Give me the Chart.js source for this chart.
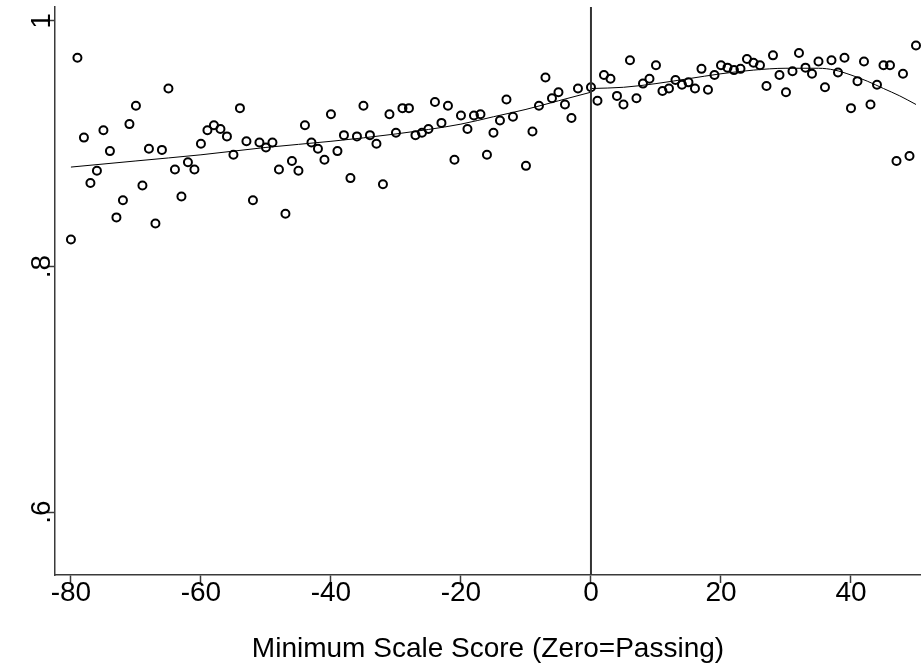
<!DOCTYPE html>
<html>
<head>
<meta charset="utf-8">
<script src="https://cdn.jsdelivr.net/npm/chart.js@4.4.1/dist/chart.umd.min.js"></script>
<style>
  html, body { margin: 0; padding: 0; background: #fff; }
  #wrap { width: 921px; height: 669px; position: relative; }
</style>
</head>
<body>
<div id="wrap"><canvas id="myChart" width="921" height="669"></canvas></div>
<script>
// binned means, x = minimum scale score (zero = passing)
var scores = [-80,-79,-78,-77,-76,-75,-74,-73,-72,-71,-70,-69,-68,-67,-66,-65,-64,-63,-62,-61,
  -60,-59,-58,-57,-56,-55,-54,-53,-52,-51,-50,-49,-48,-47,-46,-45,-44,-43,-42,-41,
  -40,-39,-38,-37,-36,-35,-34,-33,-32,-31,-30,-29,-28,-27,-26,-25,-24,-23,-22,-21,
  -20,-19,-18,-17,-16,-15,-14,-13,-12,-10,-9,-8,-7,-6,-5,-4,-3,-2,
  0,1,2,3,4,5,6,7,8,9,10,11,12,13,14,15,16,17,18,19,
  20,21,22,23,24,25,26,27,28,29,30,31,32,33,34,35,36,37,38,39,
  40,41,42,43,44,45,46,47,48,49,50];
var means = [0.822,0.970,0.905,0.868,0.878,0.911,0.894,0.840,0.854,0.916,0.931,0.866,0.896,0.835,0.895,0.945,0.879,0.857,0.885,0.879,
  0.900,0.911,0.915,0.912,0.906,0.891,0.929,0.902,0.854,0.901,0.897,0.901,0.879,0.843,0.886,0.878,0.915,0.901,0.896,0.887,
  0.924,0.894,0.907,0.872,0.906,0.931,0.907,0.900,0.867,0.924,0.909,0.929,0.929,0.907,0.909,0.912,0.934,0.917,0.931,0.887,
  0.923,0.912,0.923,0.924,0.891,0.909,0.919,0.936,0.922,0.882,0.910,0.931,0.954,0.937,0.942,0.932,0.921,0.945,
  0.946,0.935,0.956,0.953,0.939,0.932,0.968,0.937,0.949,0.953,0.964,0.943,0.945,0.952,0.948,0.950,0.945,0.961,0.944,0.956,
  0.964,0.962,0.960,0.961,0.969,0.966,0.964,0.947,0.972,0.956,0.942,0.959,0.974,0.962,0.957,0.967,0.946,0.968,0.958,0.970,
  0.929,0.951,0.967,0.932,0.948,0.964,0.964,0.886,0.957,0.890,0.980];

// smoothed fit, each side of the cutoff
var leftFitX = [-80,-70,-60,-50,-40,-30,-20,-15,-10,-5,0];
var leftFitY = [0.881,0.886,0.891,0.897,0.902,0.908,0.916,0.922,0.928,0.935,0.942];
var rightFitX = [0,5,10,15,20,25,30,35,37.5,40,42.5,45,47.5,50];
var rightFitY = [0.945,0.946,0.949,0.953,0.957,0.960,0.9615,0.9615,0.960,0.956,0.951,0.945,0.939,0.932];

var xTicks = [-80,-60,-40,-20,0,20,40];
var yTicks = [0.6,0.8,1];
var yTickLabels = ['.6','.8','1'];

function pairs(xs, ys) {
  var out = [];
  for (var i = 0; i < xs.length; i++) out.push({x: xs[i], y: ys[i]});
  return out;
}

var axisColor = '#3a3a3a';
var fontFam = '"Liberation Sans", Arial, sans-serif';
var yMin = 0.5487, yMax = 1.0114;

// y tick labels are rotated like the original, drawn from the y scale
var yLabelPlugin = {
  id: 'yLabels',
  afterDraw: function(chart) {
    var ctx = chart.ctx;
    var ys = chart.scales.y;
    ctx.save();
    ctx.fillStyle = '#000';
    ctx.font = '28px ' + fontFam;
    ctx.textAlign = 'center';
    ctx.textBaseline = 'alphabetic';
    for (var i = 0; i < yTicks.length; i++) {
      var py = ys.getPixelForValue(yTicks[i]);
      ctx.save();
      ctx.translate(50, py);
      ctx.rotate(-Math.PI / 2);
      ctx.fillText(yTickLabels[i], 0, 0);
      ctx.restore();
    }
    ctx.restore();
  }
};

var ctx = document.getElementById('myChart').getContext('2d');
var myChart = new Chart(ctx, {
  type: 'scatter',
  data: {
    datasets: [
      {
        label: 'cutoff',
        type: 'line',
        data: [{x: 0, y: yMin}, {x: 0, y: yMax}],
        borderColor: '#333',
        borderWidth: 2,
        pointRadius: 0,
        fill: false
      },
      {
        label: 'means',
        data: pairs(scores, means),
        pointStyle: 'circle',
        pointRadius: 4,
        pointBorderWidth: 2,
        pointBorderColor: '#000',
        pointBackgroundColor: 'rgba(0,0,0,0)',
        showLine: false
      },
      {
        label: 'fit left',
        type: 'line',
        data: pairs(leftFitX, leftFitY),
        borderColor: '#000',
        borderWidth: 1,
        pointRadius: 0,
        cubicInterpolationMode: 'monotone',
        fill: false
      },
      {
        label: 'fit right',
        type: 'line',
        data: pairs(rightFitX, rightFitY),
        borderColor: '#000',
        borderWidth: 1,
        pointRadius: 0,
        cubicInterpolationMode: 'monotone',
        fill: false
      }
    ]
  },
  options: {
    responsive: false,
    animation: false,
    layout: { autoPadding: false, padding: { top: 7, right: 0, left: 0, bottom: 0 } },
    plugins: {
      legend: { display: false },
      tooltip: { enabled: false }
    },
    scales: {
      x: {
        type: 'linear',
        min: -82.45,
        max: 50.77,
        afterBuildTicks: function(scale) {
          scale.ticks = xTicks.map(function(v) { return {value: v}; });
        },
        afterFit: function(scale) { scale.height = 94; },
        grid: {
          drawOnChartArea: false,
          drawTicks: true,
          tickLength: 8,
          tickWidth: 1.5,
          tickColor: axisColor
        },
        border: { display: true, color: axisColor, width: 1.5 },
        ticks: {
          color: '#000',
          font: { family: fontFam, size: 28 },
          padding: -7,
          maxRotation: 0,
          autoSkip: false,
          callback: function(v) { return String(v); }
        },
        title: {
          display: true,
          text: 'Minimum Scale Score (Zero=Passing)',
          color: '#000',
          font: { family: fontFam, size: 28 },
          padding: { top: 0, bottom: 3 }
        }
      },
      y: {
        type: 'linear',
        min: yMin,
        max: yMax,
        afterBuildTicks: function(scale) {
          scale.ticks = yTicks.map(function(v) { return {value: v}; });
        },
        afterFit: function(scale) { scale.width = 55; },
        grid: {
          drawOnChartArea: false,
          drawTicks: true,
          tickLength: 8,
          tickWidth: 1.5,
          tickColor: axisColor
        },
        border: { display: true, color: axisColor, width: 1.5 },
        ticks: { display: false }
      }
    }
  },
  plugins: [yLabelPlugin]
});
</script>
</body>
</html>
